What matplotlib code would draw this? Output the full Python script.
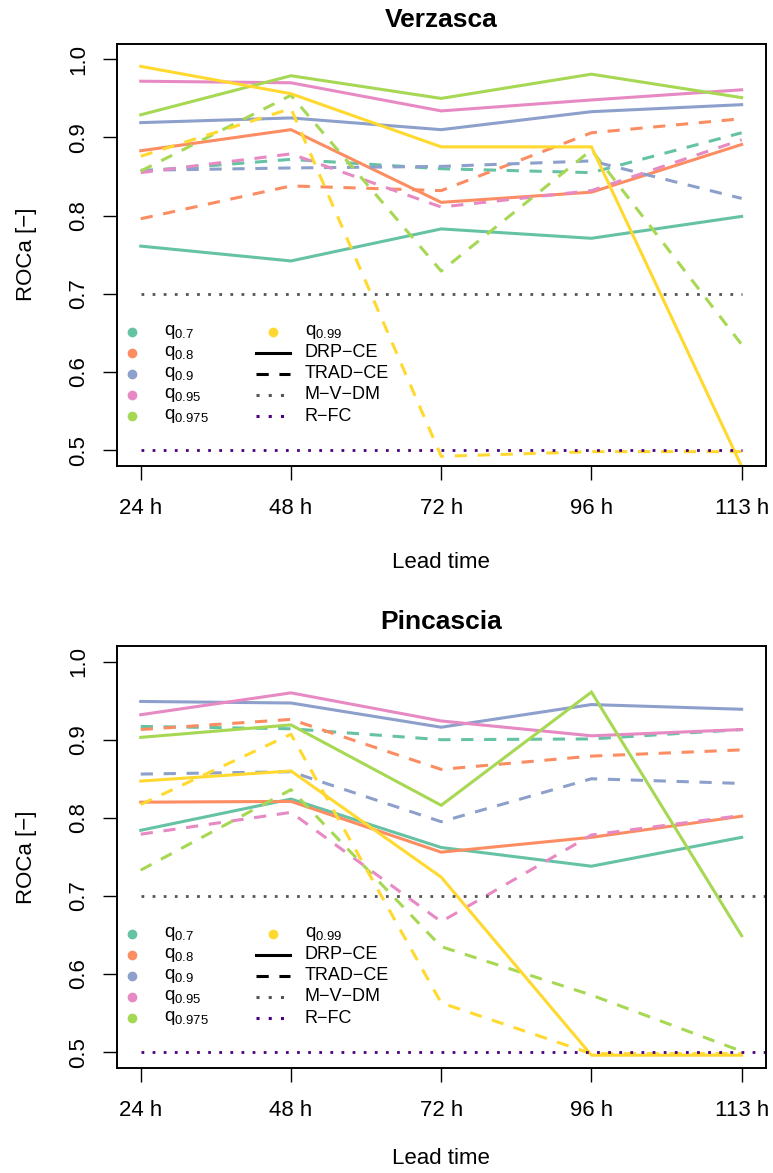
import matplotlib
matplotlib.use("Agg")
import matplotlib.pyplot as plt
import numpy as np

plt.rcParams['font.family'] = ['Liberation Sans', 'DejaVu Sans']
plt.rcParams['mathtext.fontset'] = 'custom'
plt.rcParams['mathtext.rm'] = 'Liberation Sans'
plt.rcParams['mathtext.it'] = 'Liberation Sans:italic'
plt.rcParams['mathtext.bf'] = 'Liberation Sans:bold'
plt.rcParams['mathtext.default'] = 'regular'

# ---------------- data ----------------
lead_times = ["24 h", "48 h", "72 h", "96 h", "113 h"]
quantiles = ["0.7", "0.8", "0.9", "0.95", "0.975", "0.99"]
colors = ["#66C2A5", "#FC8D62", "#8DA0CB", "#E78AC3", "#A6D854", "#FFD92F"]

# Verzasca
verz_drp_q070 = [0.761, 0.742, 0.783, 0.771, 0.799]
verz_drp_q080 = [0.883, 0.910, 0.817, 0.830, 0.891]
verz_drp_q090 = [0.919, 0.925, 0.910, 0.933, 0.942]
verz_drp_q095 = [0.972, 0.970, 0.934, 0.948, 0.961]
verz_drp_q0975 = [0.929, 0.979, 0.950, 0.981, 0.951]
verz_drp_q099 = [0.991, 0.956, 0.888, 0.888, 0.479]

verz_trad_q070 = [0.857, 0.872, 0.860, 0.855, 0.906]
verz_trad_q080 = [0.796, 0.838, 0.832, 0.906, 0.924]
verz_trad_q090 = [0.858, 0.861, 0.863, 0.870, 0.822]
verz_trad_q095 = [0.855, 0.879, 0.811, 0.832, 0.897]
verz_trad_q0975 = [0.857, 0.954, 0.729, 0.884, 0.635]
verz_trad_q099 = [0.876, 0.937, 0.492, 0.498, 0.498]

# Pincascia
pinc_drp_q070 = [0.784, 0.824, 0.762, 0.738, 0.775]
pinc_drp_q080 = [0.820, 0.821, 0.756, 0.775, 0.802]
pinc_drp_q090 = [0.949, 0.947, 0.916, 0.945, 0.939]
pinc_drp_q095 = [0.932, 0.960, 0.924, 0.905, 0.913]
pinc_drp_q0975 = [0.903, 0.919, 0.816, 0.961, 0.649]
pinc_drp_q099 = [0.847, 0.860, 0.724, 0.496, 0.496]

pinc_trad_q070 = [0.917, 0.914, 0.900, 0.901, 0.913]
pinc_trad_q080 = [0.913, 0.926, 0.862, 0.879, 0.887]
pinc_trad_q090 = [0.856, 0.859, 0.795, 0.850, 0.844]
pinc_trad_q095 = [0.779, 0.807, 0.667, 0.778, 0.803]
pinc_trad_q0975 = [0.733, 0.836, 0.635, 0.573, 0.501]
pinc_trad_q099 = [0.817, 0.907, 0.563, 0.498, 0.498]

mvdm_level = 0.7
rfc_level = 0.5

panels = [
    ("Verzasca",
     [verz_drp_q070, verz_drp_q080, verz_drp_q090, verz_drp_q095, verz_drp_q0975, verz_drp_q099],
     [verz_trad_q070, verz_trad_q080, verz_trad_q090, verz_trad_q095, verz_trad_q0975, verz_trad_q099],
     5.0, 24),
    ("Pincascia",
     [pinc_drp_q070, pinc_drp_q080, pinc_drp_q090, pinc_drp_q095, pinc_drp_q0975, pinc_drp_q099],
     [pinc_trad_q070, pinc_trad_q080, pinc_trad_q090, pinc_trad_q095, pinc_trad_q0975, pinc_trad_q099],
     5.6, 20),
]

W, H = 773, 1173
fig = plt.figure(figsize=(W / 100, H / 100), dpi=100)
ax_rects = [
    [116.7 / W, 1 - 465.7 / H, 649 / W, 422 / H],
    [116.7 / W, 1 - 1067.7 / H, 649 / W, 421.7 / H],
]

LW = 2.2
dash = (0, (4, 3.5))
dot = (0, (1, 3))
mvdm_color = "#555555"
rfc_color = "#4B0082"

for rect, (title, drp, trad, ref_end, xlpad) in zip(ax_rects, panels):
    ax = fig.add_axes(rect)
    x = np.arange(1, len(lead_times) + 1)
    for c, yd, yt in zip(colors, drp, trad):
        ax.plot(x, yd, color=c, lw=LW, solid_joinstyle='miter')
        ax.plot(x, yt, color=c, lw=LW, linestyle=dash, dash_capstyle='butt')
    ax.plot([1, ref_end], [mvdm_level, mvdm_level], color=mvdm_color, lw=2.0,
            linestyle=dot, dash_capstyle='butt')
    ax.plot([1, ref_end], [rfc_level, rfc_level], color=rfc_color, lw=2.0,
            linestyle=dot, dash_capstyle='butt')

    ax.set_xlim(0.84, 5.16)
    ax.set_ylim(0.48, 1.02)
    ax.set_xticks(x)
    ax.set_xticklabels(lead_times, fontsize=16)
    ax.set_yticks([0.5, 0.6, 0.7, 0.8, 0.9, 1.0])
    ax.set_yticklabels(["0.5", "0.6", "0.7", "0.8", "0.9", "1.0"], fontsize=16,
                       rotation=90, va='center')
    ax.tick_params(axis='both', length=10, width=1, direction='out')
    ax.tick_params(axis='x', pad=13)
    ax.tick_params(axis='y', pad=10)
    for s in ax.spines.values():
        s.set_linewidth(1.4)
    ax.set_xlabel("Lead time", fontsize=16, labelpad=xlpad)
    ax.set_ylabel("ROCa [\u2212]", fontsize=16, labelpad=22)
    ax.set_title(title, fontsize=19, fontweight='bold', pad=12)

    # legend (drawn in axes-fraction coordinates)
    rows = [0.318, 0.268, 0.218, 0.168, 0.117]
    xm1, xt1 = 0.0236, 0.0729
    xl0, xl1, xt2 = 0.2146, 0.267, 0.290
    xm2 = (xl0 + xl1) / 2
    for i in range(5):
        ax.plot([xm1], [rows[i]], 'o', ms=6, color=colors[i], transform=ax.transAxes,
                clip_on=False)
        ax.text(xt1, rows[i], "q$_{%s}$" % quantiles[i], transform=ax.transAxes,
                fontsize=13.5, va='center', ha='left')
    ax.plot([xm2], [rows[0]], 'o', ms=6, color=colors[5], transform=ax.transAxes)
    ax.text(xt2, rows[0], "q$_{%s}$" % quantiles[5], transform=ax.transAxes,
            fontsize=13.5, va='center', ha='left')
    leg_items = [("DRP\u2212CE", 'black', '-'),
                 ("TRAD\u2212CE", 'black', (0, (4, 3.5))),
                 ("M\u2212V\u2212DM", mvdm_color, dot),
                 ("R\u2212FC", rfc_color, dot)]
    for j, (lab, c, ls) in enumerate(leg_items):
        ax.plot([xl0, xl1], [rows[j + 1]] * 2, color=c, lw=2.2, linestyle=ls,
                dash_capstyle='butt', transform=ax.transAxes)
        ax.text(xt2, rows[j + 1], lab, transform=ax.transAxes, fontsize=13,
                va='center', ha='left')

fig.savefig("out.png", dpi=100)
